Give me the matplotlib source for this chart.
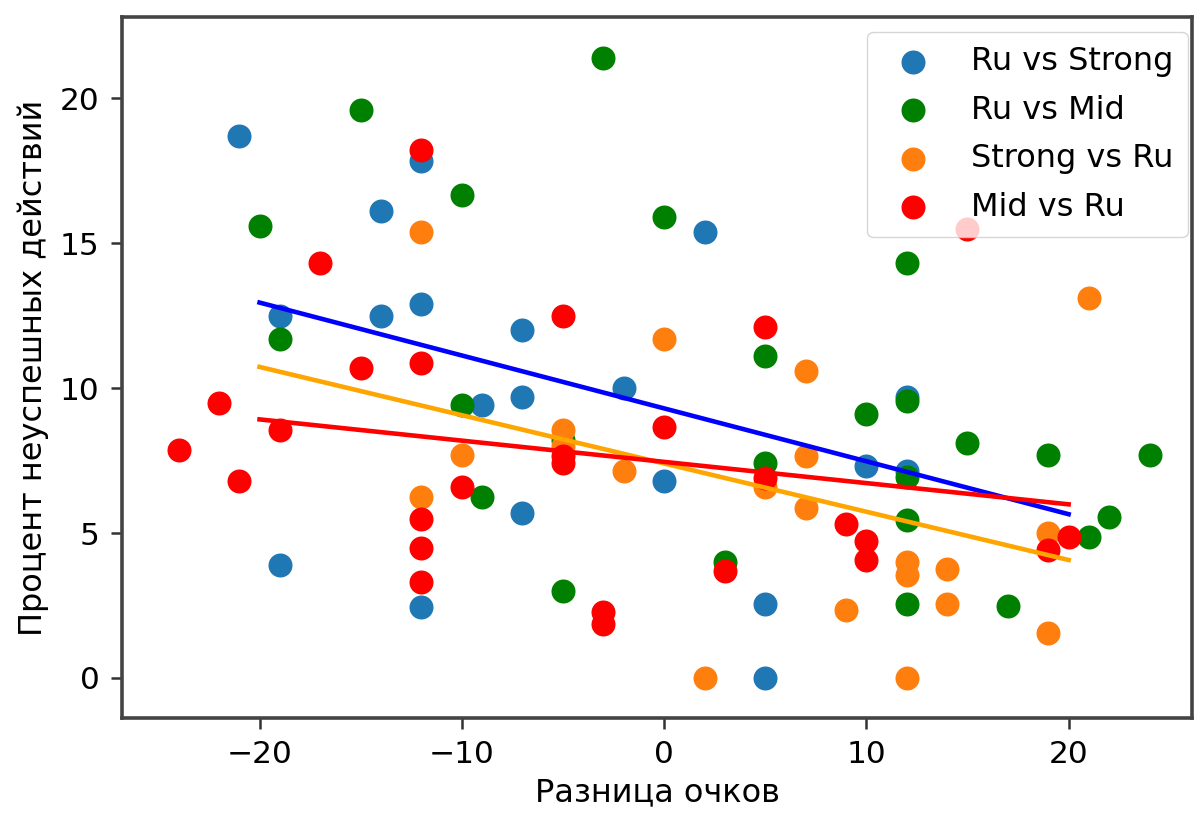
import matplotlib
matplotlib.use("Agg")
import matplotlib.pyplot as plt

# Ru vs Strong
strong_x = [-21, -12, -14, 2, -14, -12, -19, -7, -2, -7, -9, 12, 10, 12, 0, -7, -19, -12, 5, 5]
strong_y = [18.7, 17.85, 16.1, 15.4, 12.5, 12.9, 12.5, 12.0, 10.0, 9.7, 9.4, 9.7, 7.3, 7.15,
            6.8, 5.7, 3.9, 2.45, 2.55, 0.0]

# Ru vs Mid
mid_x = [-3, -15, -10, -20, 0, 12, -19, 5, -10, 10, 12, 15, 19, 24, -9, -5, 5, 12, 12, 22,
         21, 3, -5, 12, 17]
mid_y = [21.4, 19.6, 16.65, 15.6, 15.9, 14.3, 11.7, 11.1, 9.4, 9.1, 9.55, 8.1, 7.7, 7.7,
         6.25, 8.2, 7.4, 6.95, 5.45, 5.55, 4.85, 4.0, 3.0, 2.55, 2.5]

# Strong vs Ru
strong_ru_x = [-12, 0, 7, 21, -5, -5, -10, -2, 7, 7, -12, 19, 12, 12, 14, 9, 14, 19, 2, 12, 5]
strong_ru_y = [15.4, 11.7, 10.6, 13.1, 8.55, 8.0, 7.7, 7.15, 7.65, 5.85, 6.25, 5.0, 4.0, 3.55,
               3.75, 2.35, 2.55, 1.55, 0.0, 0.0, 6.6]

# Mid vs Ru
mid_ru_x = [-12, 15, -17, -5, 5, -15, -12, -22, -19, -24, 0, -5, -5, -10, -21, 5, 9, 10, 10,
            -12, -12, -12, 3, -3, -3, 19, 20]
mid_ru_y = [18.2, 15.5, 14.3, 12.5, 12.1, 10.7, 10.85, 9.5, 8.55, 7.85, 8.65, 7.65, 7.4, 6.6,
            6.8, 6.9, 5.3, 4.72, 4.07, 5.5, 4.5, 3.3, 3.7, 2.27, 1.86, 4.4, 4.85]

# trend lines
fit_x = [-20, 20]
fit_strong = [12.95, 5.65]
fit_strong_ru = [10.73, 4.07]
fit_mid_ru = [8.92, 5.99]

fs = 22.5

fig = plt.figure(figsize=(11.99, 8.16), dpi=100)
ax = fig.add_axes([122 / 1199, 1 - 718 / 816, (1192 - 122) / 1199, (718 - 17) / 816])

ms = 265
ax.scatter(strong_x, strong_y, s=ms, color="#1f77b4", label="Ru vs Strong")
ax.scatter(mid_x, mid_y, s=ms, color="green", label="Ru vs Mid")
ax.scatter(strong_ru_x, strong_ru_y, s=ms, color="#ff7f0e", label="Strong vs Ru")
ax.scatter(mid_ru_x, mid_ru_y, s=ms, color="red", label="Mid vs Ru")

ax.plot(fit_x, fit_strong, color="blue", lw=3.3)
ax.plot(fit_x, fit_strong_ru, color="orange", lw=3.3)
ax.plot(fit_x, fit_mid_ru, color="red", lw=3.3)

ax.set_xlim(-26.8, 26.1)
ax.set_ylim(-1.38, 22.8)
ax.set_xticks([-20, -10, 0, 10, 20])
ax.set_yticks([0, 5, 10, 15, 20])

ax.set_xlabel("Разница очков", fontsize=23, labelpad=6)
ax.set_ylabel("Процент неуспешных действий", fontsize=23, labelpad=8)
ax.tick_params(labelsize=fs, length=8, width=1.8, pad=8, color="#333333")
for sp in ax.spines.values():
    sp.set_linewidth(2.6)
    sp.set_color("#444444")

ax.legend(loc="upper right", bbox_to_anchor=(0.996, 0.979), borderaxespad=0,
          fontsize=23, scatterpoints=1, handletextpad=0.8,
          labelspacing=0.55, borderpad=0.45)

fig.savefig("out.png", dpi=100)
